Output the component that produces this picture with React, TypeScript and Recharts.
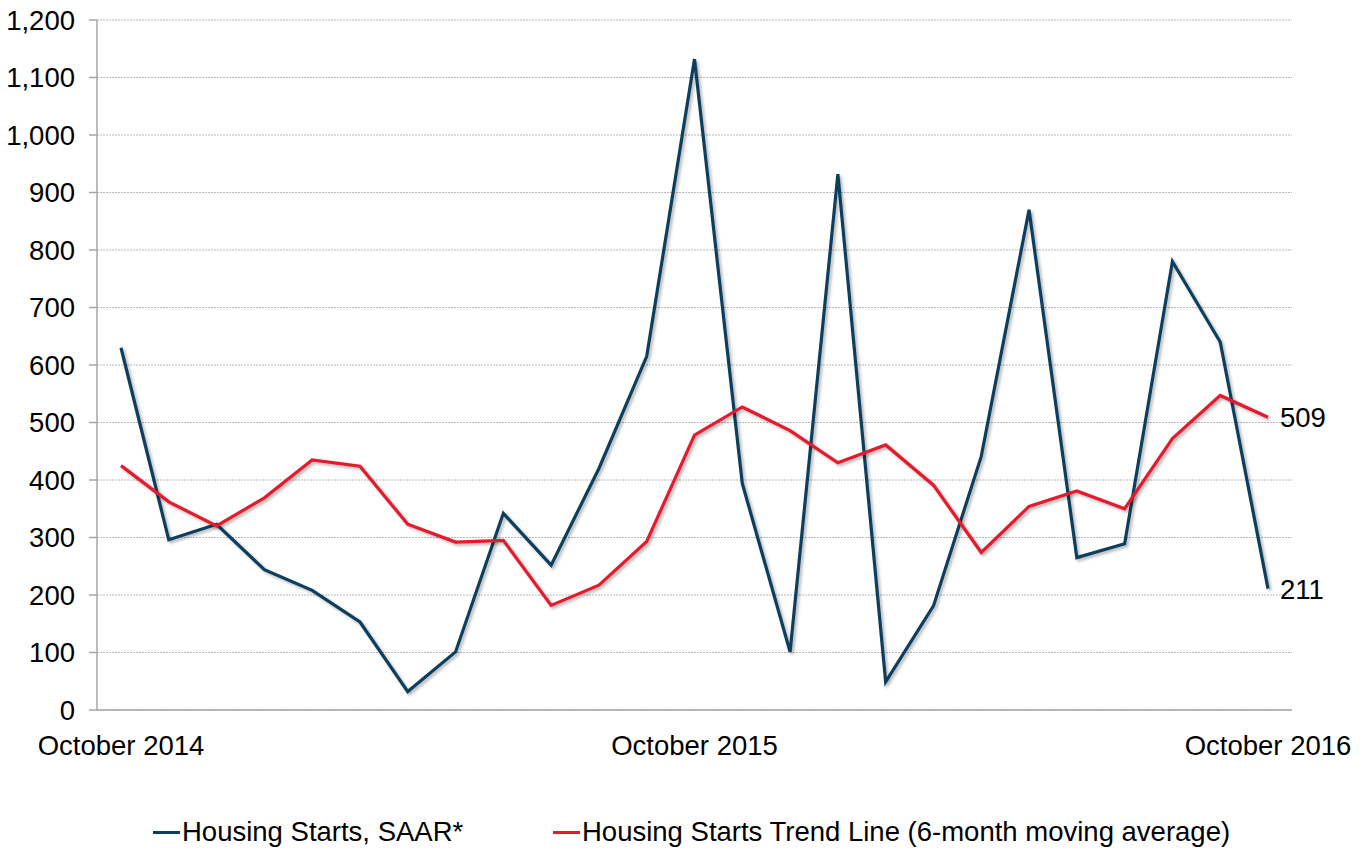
import { CartesianGrid, LabelList, Legend, Line, LineChart, XAxis, YAxis } from "recharts";

const months = [
  "October 2014", "November 2014", "December 2014", "January 2015", "February 2015", "March 2015",
  "April 2015", "May 2015", "June 2015", "July 2015", "August 2015", "September 2015",
  "October 2015", "November 2015", "December 2015", "January 2016", "February 2016", "March 2016",
  "April 2016", "May 2016", "June 2016", "July 2016", "August 2016", "September 2016", "October 2016",
];

const starts = [
  630, 296, 323, 244, 208, 153, 32, 101, 342, 252, 420, 615,
  1132, 394, 101, 932, 49, 181, 441, 870, 265, 289, 780, 640, 211,
];

const trend = [
  425, 362, 320, 369, 435, 424, 323, 292, 295, 182, 217, 293,
  478, 527, 486, 430, 461, 391, 274, 354, 381, 350, 472, 547, 509,
];

const xTicks = ["October 2014", "October 2015", "October 2016"];
const yTicks = [0, 100, 200, 300, 400, 500, 600, 700, 800, 900, 1000, 1100, 1200];

const data = months.map((month, i) => ({ month, starts: starts[i], trend: trend[i] }));

const BLUE = "#0c3f5f";
const RED = "#e8192c";
const FONT = "'Liberation Sans', Arial, sans-serif";
const FS = 27.5;

const lastLabel = (props: any) => {
  const { x, y, value, index } = props;
  if (index !== months.length - 1) return null;
  return (
    <text x={x + 12} y={y} dy="0.36em" fontSize={FS} fontFamily={FONT} fill="#000">
      {value}
    </text>
  );
};

function LegendBox() {
  const items = [
    { label: "Housing Starts, SAAR*", color: BLUE, left: 153 },
    { label: "Housing Starts Trend Line (6-month moving average)", color: RED, left: 553 },
  ];
  return (
    <div style={{ position: "relative", height: 40, fontFamily: FONT, fontSize: FS, color: "#000" }}>
      {items.map((it) => (
        <div key={it.label} style={{ position: "absolute", left: it.left, top: 0, display: "flex", alignItems: "center", whiteSpace: "nowrap" }}>
          <span style={{ display: "inline-block", width: 27, height: 3, background: it.color, marginRight: 2 }} />
          <span>{it.label}</span>
        </div>
      ))}
    </div>
  );
}

export default function App() {
  return (
    <div style={{ position: "absolute", left: 0, top: 0, background: "#fff" }}>
      <LineChart width={1365} height={858} data={data} margin={{ top: 20, right: 73, bottom: 48, left: 0 }}>
        <CartesianGrid vertical={false} stroke="#b8b8b8" strokeDasharray="2 1" />
        <XAxis
          dataKey="month"
          ticks={xTicks}
          interval={0}
          tickLine={false}
          tickSize={0}
          tickMargin={25}
          padding={{ left: 24, right: 24 }}
          axisLine={{ stroke: "#a6a6a6", strokeWidth: 1.5 }}
          tick={{ fontSize: FS, fontFamily: FONT, fill: "#000" }}
          height={60}
        />
        <YAxis
          domain={[0, 1200]}
          ticks={yTicks}
          width={97}
          tickSize={8}
          tickMargin={14}
          axisLine={{ stroke: "#a6a6a6", strokeWidth: 1.5 }}
          tickLine={{ stroke: "#a6a6a6", strokeWidth: 1.5 }}
          tickFormatter={(v: number) => v.toLocaleString("en-US")}
          tick={{ fontSize: FS, fontFamily: FONT, fill: "#000" }}
        />
        <Legend
          verticalAlign="bottom"
          align="left"
          wrapperStyle={{ left: 0, top: 816, width: 1365 }}
          content={() => <LegendBox />}
        />
        <Line
          type="linear"
          dataKey="starts"
          name="Housing Starts, SAAR*"
          stroke={BLUE}
          strokeWidth={3.2}
          dot={false}
          isAnimationActive={false}
          style={{ filter: "drop-shadow(2px 2px 1.5px rgba(0,0,0,0.3))" }}
        >
          <LabelList dataKey="starts" content={lastLabel} />
        </Line>
        <Line
          type="linear"
          dataKey="trend"
          name="Housing Starts Trend Line (6-month moving average)"
          stroke={RED}
          strokeWidth={3.2}
          dot={false}
          isAnimationActive={false}
          style={{ filter: "drop-shadow(2px 2px 1.5px rgba(0,0,0,0.3))" }}
        >
          <LabelList dataKey="trend" content={lastLabel} />
        </Line>
      </LineChart>
    </div>
  );
}
